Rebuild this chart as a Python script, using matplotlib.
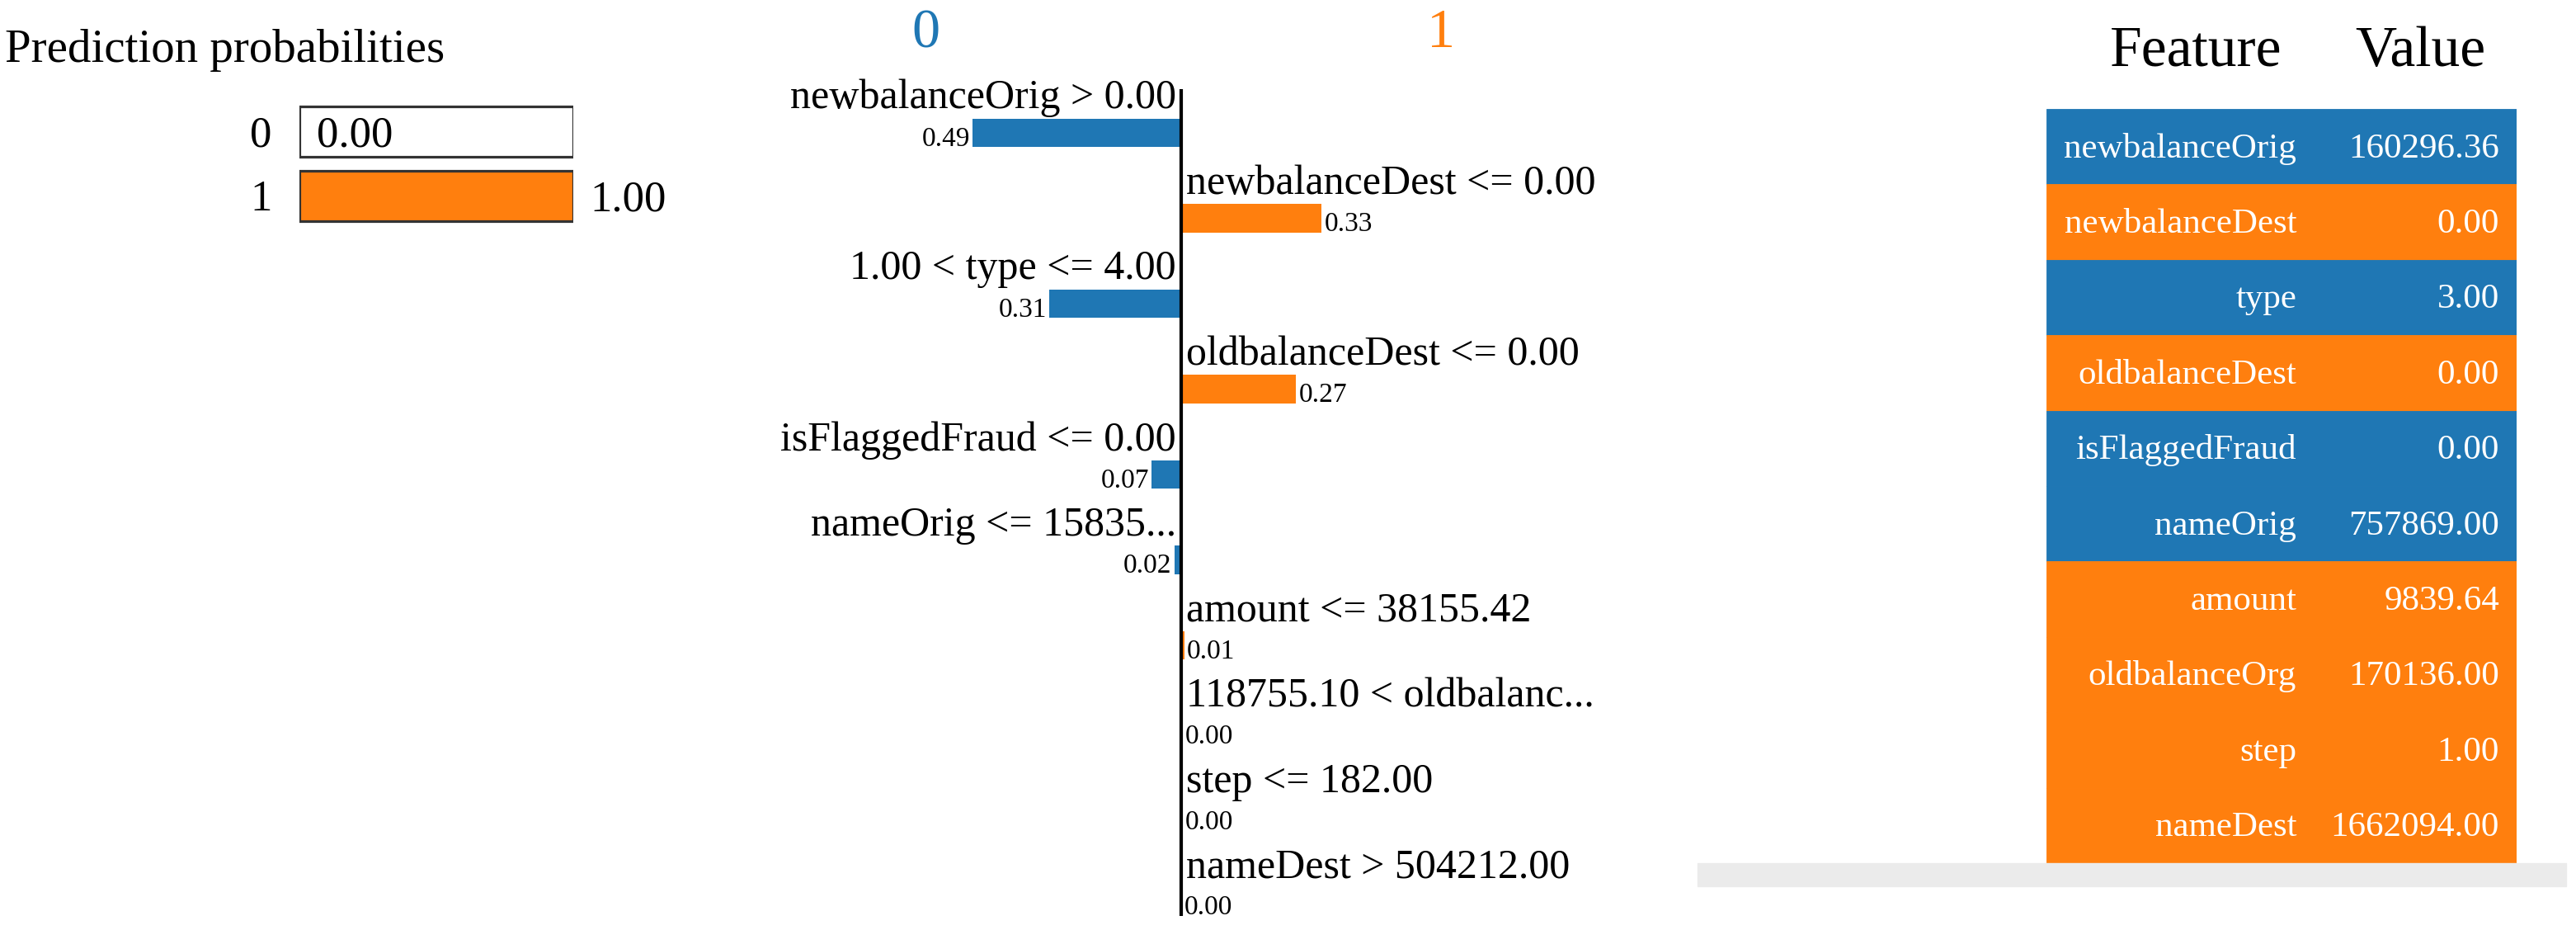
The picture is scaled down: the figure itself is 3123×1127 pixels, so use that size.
import matplotlib
matplotlib.use('Agg')
import matplotlib.pyplot as plt
from matplotlib.patches import Rectangle

plt.rcParams['font.family'] = ['Liberation Serif', 'DejaVu Serif']

W, H = 3123, 1127
BLUE = '#1f77b4'
ORANGE = '#ff7f0e'

# ---------------- data ----------------
classes = ['0', '1']
class_probs = [0.00, 1.00]
class_colors = [BLUE, ORANGE]

features = ['newbalanceOrig > 0.00', 'newbalanceDest <= 0.00', '1.00 < type <= 4.00',
            'oldbalanceDest <= 0.00', 'isFlaggedFraud <= 0.00', 'nameOrig <= 15835...',
            'amount <= 38155.42', '118755.10 < oldbalanc...', 'step <= 182.00',
            'nameDest > 504212.00']
weights = [-0.49, 0.33, -0.31, 0.27, -0.07, -0.016, 0.007, 0.003, 0.002, 0.001]

table_features = ['newbalanceOrig', 'newbalanceDest', 'type', 'oldbalanceDest',
                  'isFlaggedFraud', 'nameOrig', 'amount', 'oldbalanceOrg', 'step', 'nameDest']
table_values = ['160296.36', '0.00', '3.00', '0.00', '0.00', '757869.00',
                '9839.64', '170136.00', '1.00', '1662094.00']

fig = plt.figure(figsize=(W / 100, H / 100), dpi=100)
fig.patch.set_facecolor('white')


def px_axes(x0, y0, x1, y1):
    return fig.add_axes([x0 / W, 1 - y1 / H, (x1 - x0) / W, (y1 - y0) / H])


# ---------------- prediction probabilities ----------------
fig.text(6 / W, 1 - 75 / H, 'Prediction probabilities', fontsize=41,
         ha='left', va='baseline')

axp = px_axes(363, 120.5, 695, 276.5)
axp.set_xlim(0, 1)
axp.set_ylim(1.5, -0.5)
axp.axis('off')
ys = list(range(len(classes)))
bh = 0.79
axp.barh(ys, [1.0] * len(classes), height=bh, color='white', zorder=1)
axp.barh(ys, class_probs, height=bh, color=class_colors, zorder=2)
axp.barh(ys, [1.0] * len(classes), height=bh, facecolor='none',
         edgecolor='#333333', linewidth=2.3, zorder=3)
for y, c, p in zip(ys, classes, class_probs):
    axp.text(-0.1, y + 0.23, c, fontsize=38, ha='right', va='baseline')
    axp.annotate(f'{p:.2f}', xy=(p, y + 0.23), xytext=(15, 0),
                 textcoords='offset points', fontsize=38, ha='left', va='baseline',
                 annotation_clip=False)

# ---------------- explanation bars ----------------
axm = px_axes(1122.4, 108, 1741.6, 1110)
axm.set_xlim(-0.6, 0.6)
axm.set_ylim(9.169, -0.512)
axm.axis('off')
rows = list(range(len(features)))
bar_colors = [BLUE if w < 0 else ORANGE for w in weights]
axm.barh(rows, weights, height=0.338, color=bar_colors, zorder=2)
axm.axvline(0, color='black', linewidth=3.0, zorder=3)

axm.text(-0.6, -1.0, classes[0], color=BLUE, fontsize=49, ha='center', va='baseline')
axm.text(0.61, -1.0, classes[1], color=ORANGE, fontsize=49, ha='center', va='baseline')

for i, (f, w) in enumerate(zip(features, weights)):
    neg = w < 0
    axm.annotate(f, xy=(0, i - 0.285), xytext=(-4.3 if neg else 4.3, 0),
                 textcoords='offset points', fontsize=36,
                 ha='right' if neg else 'left', va='baseline', annotation_clip=False)
    axm.annotate(f'{abs(w):.2f}', xy=(w, i + 0.15), xytext=(-2.2 if neg else 2.5, 0),
                 textcoords='offset points', fontsize=24,
                 ha='right' if neg else 'left', va='baseline', annotation_clip=False)

# ---------------- feature / value table ----------------
axt = px_axes(2481, 132, 3051, 1046)
axt.set_xlim(0, 1)
axt.set_ylim(len(table_features) - 0.5, -0.5)
axt.axis('off')
trows = list(range(len(table_features)))
axt.barh(trows, [1.0] * len(trows), height=1.0, left=0, color=bar_colors,
         edgecolor=bar_colors, linewidth=0.6)
tr = axt.get_yaxis_transform()
axt.text(0.318, -1.07, 'Feature', transform=tr, fontsize=50, ha='center', va='baseline')
axt.text(0.796, -1.07, 'Value', transform=tr, fontsize=50, ha='center', va='baseline')
for i, (f, v) in enumerate(zip(table_features, table_values)):
    axt.text(0.532, i + 0.142, f, color='white', fontsize=31, ha='right', va='baseline')
    axt.text(0.963, i + 0.142, v, color='white', fontsize=31, ha='right', va='baseline')

# light grey strip under the table
fig.patches.append(Rectangle((2058 / W, 1 - 1074 / H), (3111 - 2058) / W, 28 / H,
                             transform=fig.transFigure, color='#ebebeb', zorder=0))

fig.savefig('out.png', dpi=100, facecolor='white')
